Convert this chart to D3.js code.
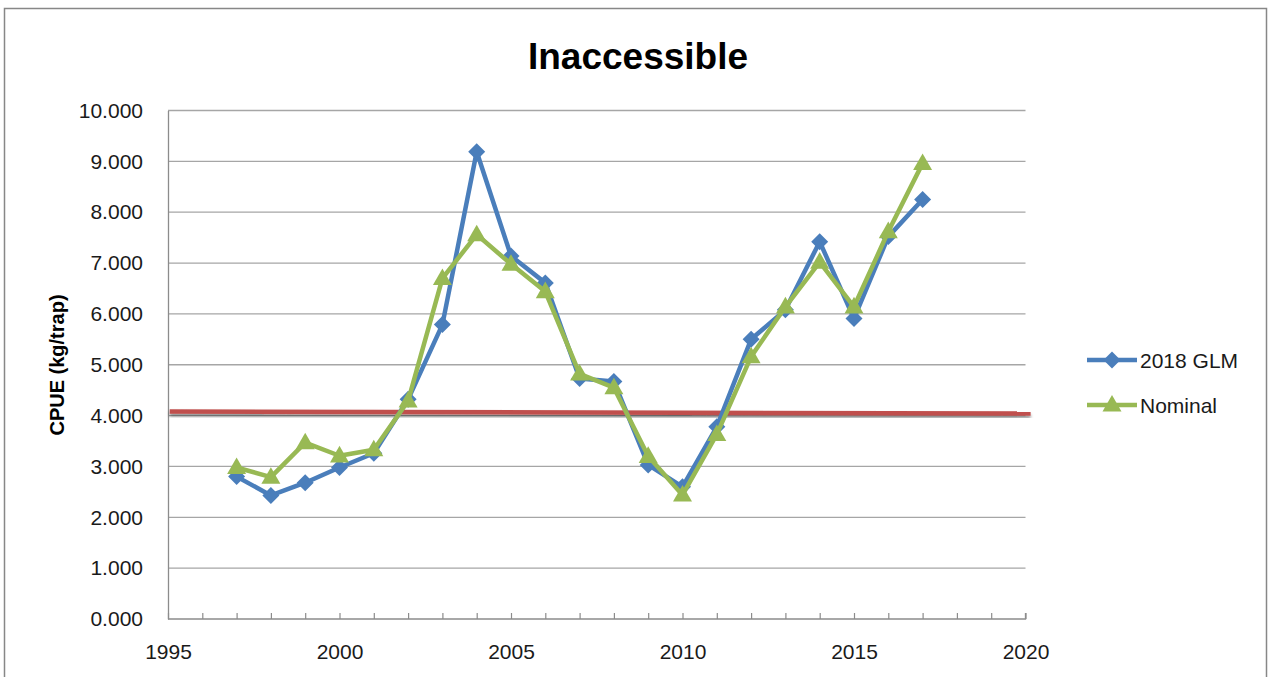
<!DOCTYPE html>
<html><head><meta charset="utf-8">
<script src="https://cdn.jsdelivr.net/npm/d3@7"></script>
<style>body{margin:0;background:#fff;} svg{display:block;font-family:"Liberation Sans",Arial,sans-serif;}</style>
</head><body>
<svg id="c" width="1272" height="677"></svg>
<script>
const years = [1997,1998,1999,2000,2001,2002,2003,2004,2005,2006,2007,2008,2009,2010,2011,2012,2013,2014,2015,2016,2017];
const glm =     [2.80,2.43,2.68,2.98,3.26,4.32,5.79,9.19,7.14,6.61,4.73,4.67,3.03,2.60,3.78,5.50,6.08,7.42,5.91,7.52,8.25];
const nominal = [2.98,2.79,3.47,3.21,3.33,4.29,6.70,7.56,6.98,6.44,4.82,4.55,3.20,2.44,3.63,5.16,6.14,7.02,6.14,7.62,8.96];
const refYears = [1995.05, 2020.15];
const refValues = [4.08, 4.04];
const yTicks = [0,1,2,3,4,5,6,7,8,9,10];
const xTicks = [1995,2000,2005,2010,2015,2020];

const svg = d3.select("#c");
const x = d3.scaleLinear().domain([1995,2020]).range([168,1025.5]);
const y = d3.scaleLinear().domain([0,10]).range([619,110.5]);

// outer border
svg.append("rect").attr("x",4.5).attr("y",8.5).attr("width",1262).attr("height",700)
  .attr("fill","none").attr("stroke","#878787").attr("stroke-width",1.5);

// defs shadow
const defs = svg.append("defs");
const f = defs.append("filter").attr("id","sh").attr("x","-5%").attr("y","-200%").attr("width","110%").attr("height","500%");
f.append("feDropShadow").attr("dx",0).attr("dy",2.5).attr("stdDeviation",1.5).attr("flood-color","#000").attr("flood-opacity",0.45);

// gridlines
svg.append("g").selectAll("line").data(yTicks.filter(d=>d>0)).join("line")
  .attr("x1",168).attr("x2",1025.5).attr("y1",d=>y(d)).attr("y2",d=>y(d))
  .attr("stroke","#a6a6a6").attr("stroke-width",1.3);

// y axis
const ya = svg.append("g").attr("transform","translate(168,0)")
  .call(d3.axisLeft(y).tickValues(yTicks).tickSize(0).tickPadding(25).tickFormat(d3.format(".3f")));
ya.select(".domain").attr("stroke","#8c8c8c").attr("stroke-width",1.3);
ya.selectAll("text").attr("font-size",21).attr("fill","#1a1a1a").attr("font-family","Liberation Sans, Arial, sans-serif");

// x axis
const xa = svg.append("g").attr("transform","translate(0,619)")
  .call(d3.axisBottom(x).tickValues(d3.range(1995,2021)).tickSize(-6).tickFormat(""));
xa.select(".domain").attr("stroke","#8c8c8c").attr("stroke-width",1.3).attr("d","M168,0H1025.5V-6");
xa.selectAll(".tick line").attr("stroke","#8c8c8c").attr("stroke-width",1.2);
const xl = svg.append("g").attr("transform","translate(0,619)")
  .call(d3.axisBottom(x).tickValues(xTicks).tickSize(0).tickPadding(25).tickFormat(d3.format("d")));
xl.select(".domain").remove();
xl.selectAll("text").attr("font-size",21).attr("fill","#1a1a1a").attr("font-family","Liberation Sans, Arial, sans-serif");

// reference red line
svg.append("line").attr("x1",x(refYears[0])).attr("x2",x(refYears[1]))
  .attr("y1",y(refValues[0])).attr("y2",y(refValues[1]))
  .attr("stroke","#c0504d").attr("stroke-width",4.5).attr("filter","url(#sh)");

const line = d3.line().x((d,i)=>x(years[i])).y(d=>y(d));
function diamond(g, cx, cy, r, color){
  g.append("path").attr("d",`M${cx},${cy-r}L${cx+r},${cy}L${cx},${cy+r}L${cx-r},${cy}Z`).attr("fill",color);
}
function triangle(g, cx, cy, s, color){
  const h = s*0.87;
  g.append("path").attr("d",`M${cx},${cy-h*0.6}L${cx+s/2},${cy+h*0.4}L${cx-s/2},${cy+h*0.4}Z`).attr("fill",color);
}
const blue="#4a7ebb", green="#98b954";
const gB = svg.append("g");
gB.append("path").attr("d",line(glm)).attr("fill","none").attr("stroke",blue).attr("stroke-width",4.5).attr("stroke-linejoin","round");
glm.forEach((v,i)=>diamond(gB,x(years[i]),y(v),8.5,blue));
const gG = svg.append("g");
gG.append("path").attr("d",line(nominal)).attr("fill","none").attr("stroke",green).attr("stroke-width",4.5).attr("stroke-linejoin","round");
nominal.forEach((v,i)=>triangle(gG,x(years[i]),y(v),19,green));

// title
svg.append("text").attr("x",638).attr("y",69).attr("text-anchor","middle")
  .attr("font-size",37).attr("font-weight","bold").attr("fill","#000").text("Inaccessible");
// y title
svg.append("text").attr("transform","translate(64,365) rotate(-90)").attr("text-anchor","middle")
  .attr("font-size",20).attr("font-weight","bold").attr("fill","#000").text("CPUE (kg/trap)");

// legend
const leg = [{name:"2018 GLM",color:blue,m:"d",y:360},{name:"Nominal",color:green,m:"t",y:405}];
leg.forEach(l=>{
  svg.append("line").attr("x1",1087).attr("x2",1137).attr("y1",l.y).attr("y2",l.y).attr("stroke",l.color).attr("stroke-width",4.5);
  if(l.m==="d") diamond(svg,1112,l.y,8.5,l.color); else triangle(svg,1112,l.y,19,l.color);
  svg.append("text").attr("x",1140).attr("y",l.y+7.5).attr("font-size",21).attr("fill","#1a1a1a").text(l.name);
});
</script>
</body></html>
